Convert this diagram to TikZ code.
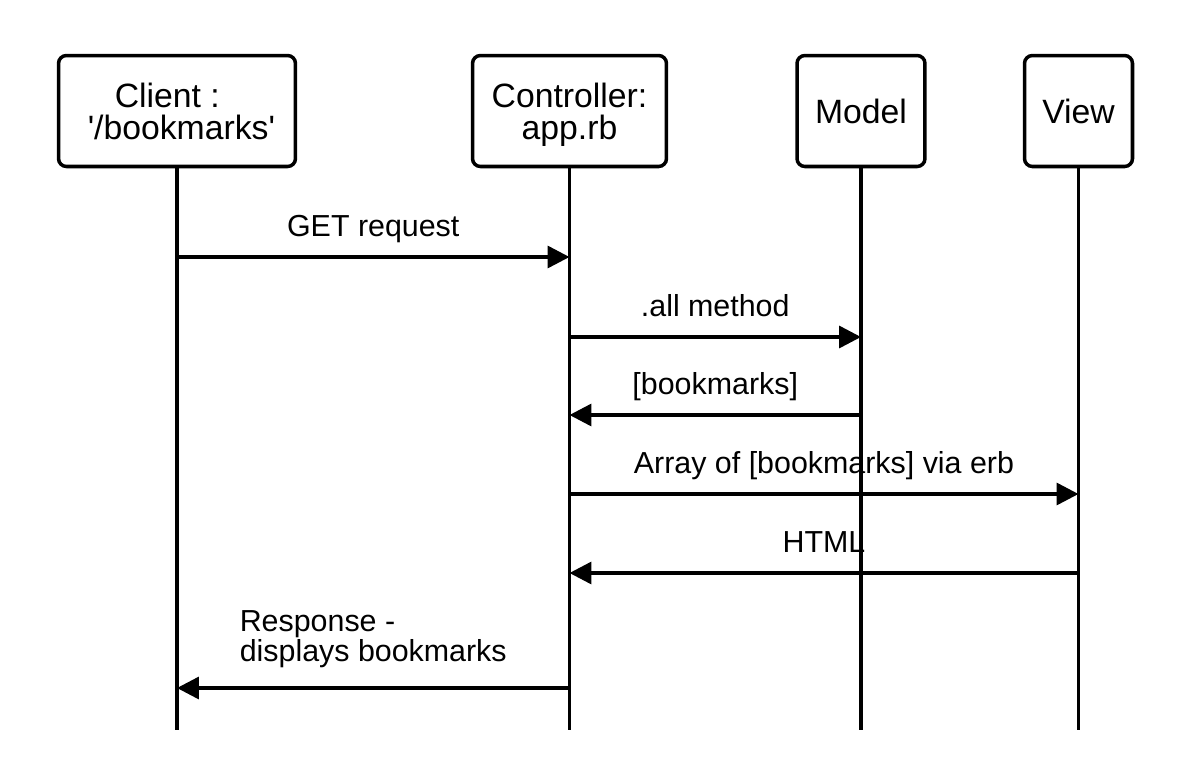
\documentclass[tikz,border=0pt]{standalone}
\usepackage{fontspec}
\newfontfamily\seqfont{Liberation Sans}
\usetikzlibrary{arrows.meta}

\begin{document}
\begin{tikzpicture}
[
x=0.02cm, y=-0.02cm,
line width=2pt,
actor/.style={draw, rounded corners=4.5pt, align=center, inner sep=0pt,
  minimum height=2.22cm, font=\seqfont\fontsize{19.2}{18.2}\selectfont},
msg/.style={-{Triangle[length=12.5pt,width=12.5pt]}},
lbl/.style={draw=none, inner sep=0pt, anchor=base, yshift=11.9pt,
  font=\seqfont\fontsize{17.3}{17}\selectfont}
]
\useasboundingbox (0,0) rectangle (1178,778);

% lifeline heads
\node[actor, minimum width=4.74cm, text depth=-3pt] (client) at (177,111)
  {Client :\kern11pt\mbox{}\\ \mbox{}\kern5pt'/bookmarks'};
\node[actor, minimum width=3.88cm, text depth=-3pt] (ctrl) at (569.5,111) {Controller:\\ app.rb};
\node[actor, minimum width=2.56cm] (model) at (861,111) {Model};
\node[actor, minimum width=2.16cm] (view) at (1078.5,111) {View};

% lifelines
\coordinate (clientEnd) at (client |- 0,730);
\coordinate (ctrlEnd) at (ctrl |- 0,730);
\coordinate (modelEnd) at (model |- 0,730);
\coordinate (viewEnd) at (view |- 0,730);
\draw (client) -- (clientEnd);
\draw (ctrl) -- (ctrlEnd);
\draw (model) -- (modelEnd);
\draw (view) -- (viewEnd);

% messages
\draw[msg] (client |- 0,257) -- node[lbl] {GET request} (ctrl |- 0,257);
\draw[msg] (ctrl |- 0,337) -- node[lbl] {.all method} (model |- 0,337);
\draw[msg] (model |- 0,415) -- node[lbl] {[bookmarks]} (ctrl |- 0,415);
\draw[msg] (ctrl |- 0,494) -- node[lbl] {Array of [bookmarks] via erb} (view |- 0,494);
\draw[msg] (view |- 0,573) -- node[lbl] {HTML} (ctrl |- 0,573);
\draw[msg] (ctrl |- 0,688) -- node[lbl, align=left, anchor=south, yshift=-1.5pt]
  {Response -\\ displays bookmarks} (client |- 0,688);
\end{tikzpicture}
\end{document}
